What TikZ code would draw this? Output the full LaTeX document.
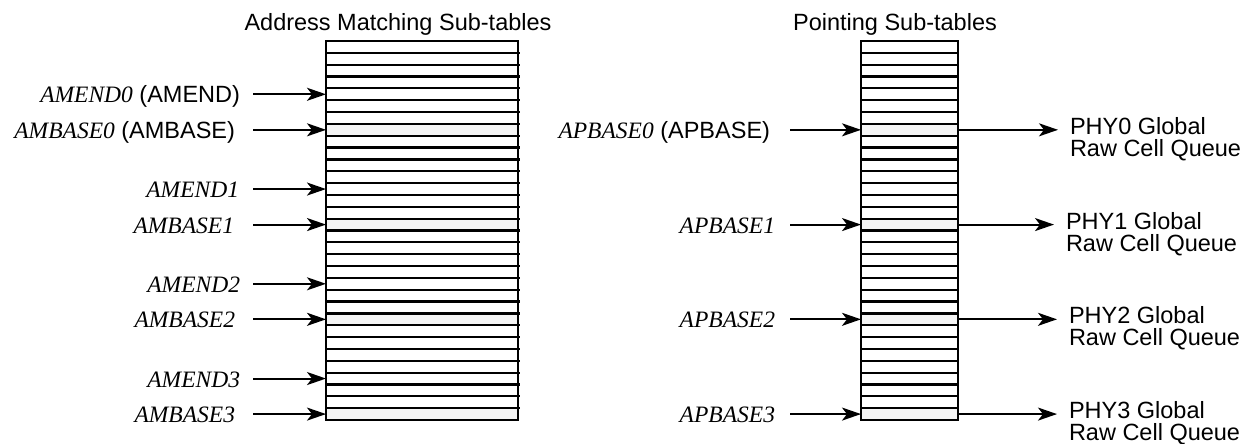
\documentclass[tikz,border=0pt]{standalone}
\usepackage{fontspec}
\setmainfont{Liberation Sans}
\newfontfamily\regfont{Liberation Serif}
\usetikzlibrary{arrows.meta,positioning}

\definecolor{rowgray}{HTML}{F4F4F4}
\newcommand{\regname}[1]{{\regfont\itshape #1}}

\tikzset{
    ptr/.style={line width=1pt, -{Stealth[length=9.5pt, width=6.5pt, inset=2.5pt]}},
    rowline/.style={line width=1.1pt},
    tablebox/.style={line width=1.4pt},
    title/.style={anchor=base, inner sep=0pt, font=\fontsize{11.75}{13}\selectfont},
    lbl/.style={anchor=east, inner sep=0pt, text height=8.5pt, text depth=0pt,
        font=\fontsize{11.75}{13}\selectfont},
    queue/.style={anchor=north west, align=left, inner sep=0pt, outer xsep=6pt,
        font=\fontsize{11.75}{11}\selectfont}
}

\begin{document}
\begin{tikzpicture}[x=0.5pt, y=-0.5pt]
    \def\yT{41}     % top of both tables
    \def\yB{420}    % bottom of both tables
    \def\nRows{32}  % rows per table
    \def\amL{326}   % left edge of the address matching table
    \def\amR{518}   % right edge of the address matching table
    \def\ptL{861}   % left edge of the pointing table
    \def\ptR{958}   % right edge of the pointing table
    \def\amS{253}   % x where the address pointers start
    \def\ptS{790}   % x where the base pointers start
    \def\qX{1058}   % x where the queue arrows end

    % Calculations
    \pgfmathsetmacro{\h}{(\yB-\yT)/\nRows} % row height

    \useasboundingbox (0,0) rectangle (1244,444);

    % Shaded base rows
    \foreach \r in {7,15,23,31} {
        \fill[rowgray] (\amL,{\yT+\r*\h}) rectangle (\amR,{\yT+(\r+1)*\h});
        \fill[rowgray] (\ptL,{\yT+\r*\h}) rectangle (\ptR,{\yT+(\r+1)*\h});
    }

    % Row dividers
    \foreach \r in {1,...,31} {
        \draw[rowline] (\amL,{\yT+\r*\h}) -- ({\amR+2},{\yT+\r*\h});
        \draw[rowline] (\ptL,{\yT+\r*\h}) -- (\ptR,{\yT+\r*\h});
    }
    \draw[tablebox] (\amL,\yT) rectangle (\amR,\yB);
    \draw[tablebox] (\ptL,\yT) rectangle (\ptR,\yB);

    \node[title] (amhead) at (398,31) {Address Matching Sub-tables};
    \node[title] (pthead) at (895,31) {Pointing Sub-tables};

    % Address matching pointers
    \foreach \r/\txt/\g in {4/{\regname{AMEND0} (AMEND)}/6.5pt,
                            7/{\regname{AMBASE0} (AMBASE)}/9pt,
                            12/{\regname{AMEND1}}/7pt,
                            15/{\regname{AMBASE1}}/9.5pt,
                            20/{\regname{AMEND2}}/6.5pt,
                            23/{\regname{AMBASE2}}/9pt,
                            28/{\regname{AMEND3}}/6.5pt,
                            31/{\regname{AMBASE3}}/9pt} {
        \coordinate (am\r) at (\amL,{\yT+(\r+0.5)*\h});
        \node[lbl, outer xsep=\g] (al\r) at (\amS,{\yT+(\r+0.5)*\h}) {\txt};
        \draw[ptr] (al\r) -- (am\r);
    }

    % Pointing pointers and queues
    \foreach \r/\txt/\g/\phy/\dx in {7/{\regname{APBASE0} (APBASE)}/10pt/PHY0/0,
                                     15/{\regname{APBASE1}}/7.5pt/PHY1/-4,
                                     23/{\regname{APBASE2}}/7.5pt/PHY2/-1,
                                     31/{\regname{APBASE3}}/7.5pt/PHY3/-1} {
        \coordinate (pl\r) at (\ptL,{\yT+(\r+0.5)*\h});
        \coordinate (pe\r) at (\ptR,{\yT+(\r+0.5)*\h});
        \node[lbl, outer xsep=\g] (bl\r) at (\ptS,{\yT+(\r+0.5)*\h}) {\txt};
        \draw[ptr] (bl\r) -- (pl\r);
        \node[queue] (q\r) at ({\qX+\dx},{\yT+(\r+0.5)*\h-13}) {\phy\ Global\\Raw Cell Queue};
        \draw[ptr] (pe\r) -- (pe\r -| q\r.west);
    }
\end{tikzpicture}
\end{document}
